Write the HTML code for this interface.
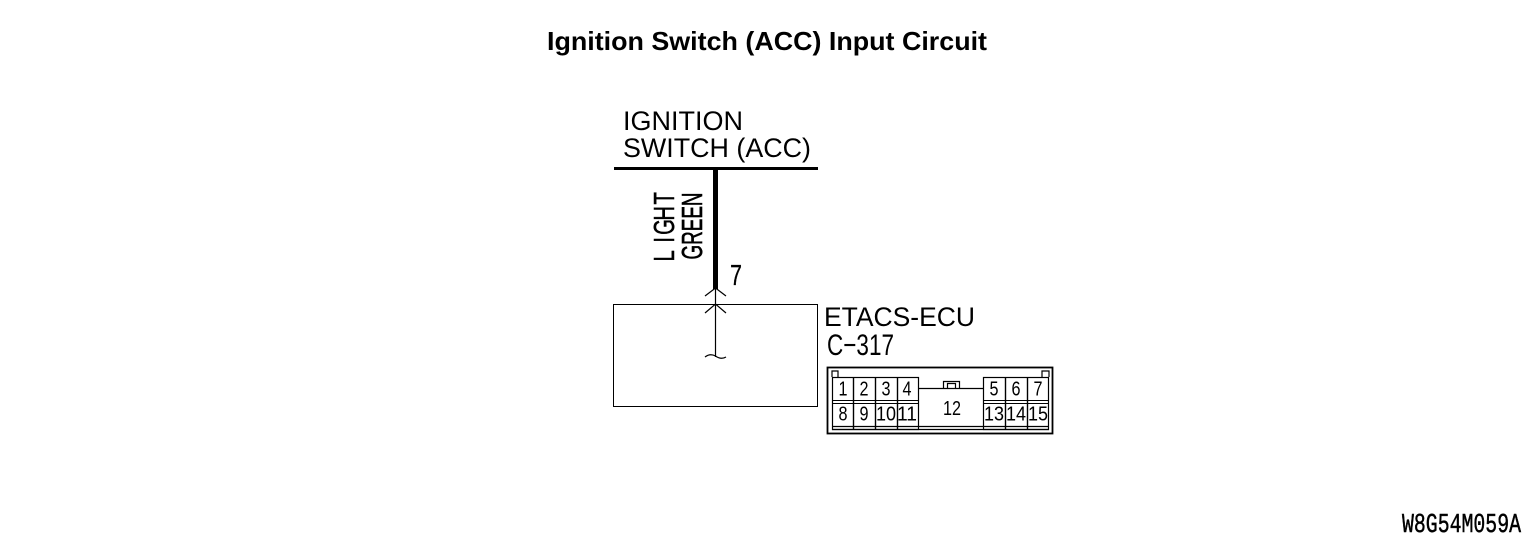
<!DOCTYPE html>
<html><head><meta charset="utf-8">
<style>
html,body{margin:0;padding:0;background:#fff;width:1533px;height:543px;overflow:hidden}
svg{display:block}
text{font-family:"Liberation Sans",sans-serif;fill:#000}
</style></head>
<body>
<svg width="1533" height="543" viewBox="0 0 1533 543" xmlns="http://www.w3.org/2000/svg">
<text x="547" y="50" font-size="26" font-weight="bold" textLength="440" lengthAdjust="spacingAndGlyphs">Ignition Switch (ACC) Input Circuit</text>
<text x="623" y="130" font-size="27" textLength="120" lengthAdjust="spacingAndGlyphs">IGNITION</text>
<text x="623" y="157" font-size="27" textLength="188" lengthAdjust="spacingAndGlyphs">SWITCH (ACC)</text>
<line x1="614" y1="168.5" x2="818" y2="168.5" stroke="#000" stroke-width="3"/>
<line x1="715.5" y1="168" x2="715.5" y2="289" stroke="#000" stroke-width="5"/>
<g transform="translate(674,261) rotate(-90) scale(.7,1)"><text x="-0.8 26 37.3 57.7 80.8" y="0" font-size="29" stroke="#000" stroke-width="0.5">LIGHT</text></g>
<text transform="translate(702,259.5) rotate(-90)" font-size="29" textLength="67" lengthAdjust="spacingAndGlyphs" stroke="#000" stroke-width="0.6">GREEN</text>
<text x="730" y="285" font-size="29" textLength="12" lengthAdjust="spacingAndGlyphs" stroke="#000" stroke-width="0.3">7</text>
<rect x="613.5" y="304.5" width="204" height="102" fill="none" stroke="#000" stroke-width="1"/>
<g fill="none" stroke="#000" stroke-width="1.2">
<path d="M705 296 L715.5 288 L726 296"/>
<path d="M705 313 L715.5 304 L726 313"/>
<line x1="715.5" y1="289" x2="715.5" y2="357"/>
<path d="M705 357 Q710 353 715.5 356 Q721 360 726 357"/>
</g>
<text x="824" y="326" font-size="27" textLength="151" lengthAdjust="spacingAndGlyphs">ETACS-ECU</text>
<text x="827" y="355" font-size="30" textLength="67" lengthAdjust="spacingAndGlyphs">C−317</text>
<g fill="none" stroke="#000">
<rect x="827.5" y="367.5" width="225" height="66" stroke-width="1.8"/>
<path d="M832 377V371H838V377M1042 377V371H1049V377" stroke-width="1.2"/>
<rect x="832.5" y="377.5" width="86" height="52" stroke-width="1.2"/>
<rect x="983.5" y="377.5" width="65" height="52" stroke-width="1.2"/>
<path d="M853.5 377V429M875.5 377V429M897.5 377V429M1005.5 377V429M1027.5 377V429" stroke-width="1.4"/>
<path d="M832 400.5H918M983 400.5H1049M832 403.5H918M983 403.5H1049" stroke-width="1.1"/>
<path d="M832 426.5H1049M832 429.5H1049" stroke-width="1.3"/>
<path d="M918 388.5H983" stroke-width="1.2"/>
<path d="M943.5 388V381.5H959.5V388M947.5 388V383.5H955.5V388" stroke-width="1.2"/>
</g>
<g font-size="20" text-anchor="middle">
<text x="843" y="395.5" textLength="9" lengthAdjust="spacingAndGlyphs">1</text><text x="864" y="395.5" textLength="9" lengthAdjust="spacingAndGlyphs">2</text><text x="886" y="395.5" textLength="9" lengthAdjust="spacingAndGlyphs">3</text><text x="907" y="395.5" textLength="9" lengthAdjust="spacingAndGlyphs">4</text>
<text x="994" y="395.5" textLength="9" lengthAdjust="spacingAndGlyphs">5</text><text x="1016" y="395.5" textLength="9" lengthAdjust="spacingAndGlyphs">6</text><text x="1038" y="395.5" textLength="9" lengthAdjust="spacingAndGlyphs">7</text>
<text x="843" y="420.5" textLength="9" lengthAdjust="spacingAndGlyphs">8</text><text x="864" y="420.5" textLength="9" lengthAdjust="spacingAndGlyphs">9</text>
<text x="886" y="420.5" textLength="20" lengthAdjust="spacingAndGlyphs">10</text>
<text x="907" y="420.5" textLength="20" lengthAdjust="spacingAndGlyphs">11</text>
<text x="952" y="415" textLength="18" lengthAdjust="spacingAndGlyphs">12</text>
<text x="994" y="420.5" textLength="20" lengthAdjust="spacingAndGlyphs">13</text>
<text x="1016" y="420.5" textLength="20" lengthAdjust="spacingAndGlyphs">14</text>
<text x="1038" y="420.5" textLength="20" lengthAdjust="spacingAndGlyphs">15</text>
</g>
<text x="1402" y="532" font-size="27" textLength="119" lengthAdjust="spacingAndGlyphs" style="font-family:'Liberation Mono',monospace" stroke="#000" stroke-width="0.5">W8G54M059A</text>
</svg>
</body></html>
